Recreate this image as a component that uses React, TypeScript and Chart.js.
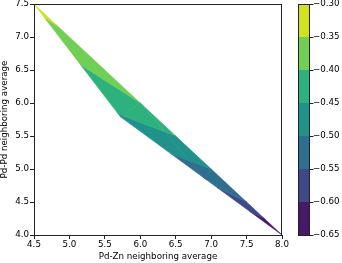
import React, { useEffect, useRef } from 'react';
import { Chart, registerables } from 'chart.js';
Chart.register(...registerables);

// Triangulation vertices (Pd-Zn avg, Pd-Pd avg, value)
const ptX = [4.5, 5.72, 6.0, 6.9, 7.0, 7.5, 8.0];
const ptY = [7.5, 5.79, 6.0, 4.864, 5.0, 4.5, 4.0];
const ptZ = [-0.336, -0.455, -0.40, -0.53, -0.50, -0.55, -0.65];
const triangles = [[0, 1, 2], [1, 3, 2], [2, 3, 4], [3, 5, 4], [3, 6, 5]];

const levels = [-0.65, -0.6, -0.55, -0.5, -0.45, -0.4, -0.35, -0.3];
const bandColors = ['#48186a', '#3f4888', '#2e6e8e', '#21918c', '#2db27d', '#72cf56', '#d1e11e'];

const xTitle = 'Pd-Zn neighboring average';
const yTitle = 'Pd-Pd neighboring average';

type P = { x: number; y: number; z: number };

function clipPoly(poly: P[], f: (z: number) => number): P[] {
  const out: P[] = [];
  for (let i = 0; i < poly.length; i++) {
    const a = poly[i];
    const b = poly[(i + 1) % poly.length];
    const fa = f(a.z);
    const fb = f(b.z);
    if (fa >= 0) out.push(a);
    if ((fa >= 0) !== (fb >= 0)) {
      const t = fa / (fa - fb);
      out.push({ x: a.x + t * (b.x - a.x), y: a.y + t * (b.y - a.y), z: a.z + t * (b.z - a.z) });
    }
  }
  return out;
}

const contourPlugin = {
  id: 'tricontourf',
  beforeDatasetsDraw(chart: any) {
    const { ctx, chartArea, scales } = chart;
    const xs = scales.x;
    const ys = scales.y;
    ctx.save();
    ctx.beginPath();
    ctx.rect(chartArea.left, chartArea.top, chartArea.right - chartArea.left, chartArea.bottom - chartArea.top);
    ctx.clip();
    triangles.forEach((tri) => {
      const poly: P[] = tri.map((i) => ({ x: ptX[i], y: ptY[i], z: ptZ[i] }));
      for (let b = 0; b < bandColors.length; b++) {
        const lo = levels[b];
        const hi = levels[b + 1];
        let p = clipPoly(poly, (z) => z - lo);
        if (p.length < 3) continue;
        p = clipPoly(p, (z) => hi - z);
        if (p.length < 3) continue;
        ctx.beginPath();
        p.forEach((q, k) => {
          const px = xs.getPixelForValue(q.x);
          const py = ys.getPixelForValue(q.y);
          if (k === 0) ctx.moveTo(px, py);
          else ctx.lineTo(px, py);
        });
        ctx.closePath();
        ctx.fillStyle = bandColors[b];
        ctx.strokeStyle = bandColors[b];
        ctx.lineWidth = 0.6;
        ctx.fill();
        ctx.stroke();
      }
    });
    ctx.restore();
  },
  afterDraw(chart: any) {
    const { ctx, chartArea, scales } = chart;
    ctx.save();
    // axes frame
    ctx.strokeStyle = '#222';
    ctx.lineWidth = 1;
    ctx.strokeRect(chartArea.left + 0.5, chartArea.top + 0.5, chartArea.right - chartArea.left - 1, chartArea.bottom - chartArea.top);
    // colorbar
    const cb = scales.cb;
    const x0 = chartArea.right + 16;
    const w = 12;
    for (let b = 0; b < bandColors.length; b++) {
      const yTop = cb.getPixelForValue(levels[b + 1]);
      const yBot = cb.getPixelForValue(levels[b]);
      ctx.fillStyle = bandColors[b];
      ctx.fillRect(x0, yTop, w, yBot - yTop);
    }
    const top = cb.getPixelForValue(levels[levels.length - 1]);
    const bot = cb.getPixelForValue(levels[0]);
    ctx.strokeStyle = '#222';
    ctx.strokeRect(x0 + 0.5, top + 0.5, w - 1, bot - top);
    ctx.beginPath();
    levels.forEach((lv) => {
      const y = Math.round(cb.getPixelForValue(lv)) + 0.5;
      ctx.moveTo(x0 + w, y);
      ctx.lineTo(x0 + w + 3.5, y);
    });
    ctx.stroke();
    ctx.restore();
  },
};

const fontSpec = { family: 'DejaVu Sans', size: 8.7 };

export default function App() {
  const ref = useRef<HTMLCanvasElement>(null);
  useEffect(() => {
    document.body.style.margin = '0';
    const canvas = ref.current!;
    const chart = new Chart(canvas, {
      type: 'scatter',
      data: {
        datasets: [
          {
            data: ptX.map((x, i) => ({ x, y: ptY[i] })),
            pointRadius: 0,
            showLine: false,
          },
        ],
      },
      options: {
        animation: false,
        responsive: false,
        events: [],
        layout: { padding: { top: 4, left: 0, right: 0, bottom: 0 } },
        plugins: { legend: { display: false }, tooltip: { enabled: false } },
        scales: {
          x: {
            type: 'linear',
            min: 4.5,
            max: 8,
            ticks: {
              stepSize: 0.5,
              autoSkip: false,
              maxRotation: 0,
              padding: 1,
              color: '#000',
              font: fontSpec,
              callback: (v: any) => Number(v).toFixed(1),
            },
            grid: { drawOnChartArea: false, drawTicks: true, tickLength: 4, color: '#222' },
            border: { display: false },
            title: { display: true, text: xTitle, color: '#000', font: fontSpec, padding: { top: 0, bottom: 1 } },
            afterFit: (s: any) => {
              s.height = 28;
              s.paddingLeft = 0;
              s.paddingRight = 0;
            },
          },
          y: {
            type: 'linear',
            min: 4,
            max: 7.5,
            ticks: {
              stepSize: 0.5,
              autoSkip: false,
              padding: 1,
              color: '#000',
              font: fontSpec,
              callback: (v: any) => Number(v).toFixed(1),
            },
            grid: { drawOnChartArea: false, drawTicks: true, tickLength: 4, color: '#222' },
            border: { display: false },
            title: { display: true, text: yTitle, color: '#000', font: fontSpec, padding: { top: 0, bottom: 0 } },
            afterFit: (s: any) => {
              s.width = 34;
              s.paddingTop = 0;
              s.paddingBottom = 0;
            },
          },
          cb: {
            type: 'linear',
            position: 'right',
            min: -0.65,
            max: -0.3,
            ticks: {
              stepSize: 0.05,
              autoSkip: false,
              padding: 31,
              color: '#000',
              font: fontSpec,
              callback: (v: any) => (Math.round(Number(v) * 100) / 100).toFixed(2).replace('-', '\u2212'),
            },
            grid: { display: false, drawTicks: false, tickLength: 0 },
            border: { display: false },
            afterFit: (s: any) => {
              s.width = 60;
              s.paddingTop = 0;
              s.paddingBottom = 0;
            },
          },
        },
      } as any,
      plugins: [contourPlugin],
    });
    return () => chart.destroy();
  }, []);
  return (
    <div style={{ width: 342, height: 263 }}>
      <canvas ref={ref} width={342} height={263} style={{ display: 'block' }} />
    </div>
  );
}
